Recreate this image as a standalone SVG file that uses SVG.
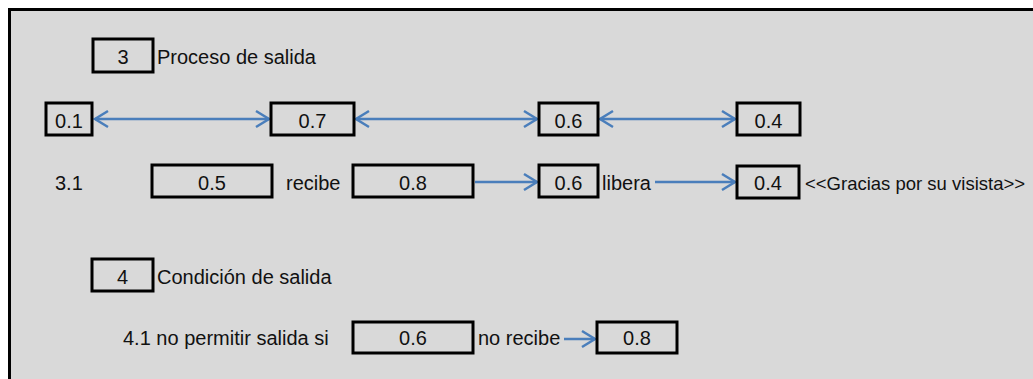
<svg xmlns="http://www.w3.org/2000/svg" width="1033" height="379" viewBox="0 0 1033 379">
<defs>
<style>
.bx{fill:none;stroke:#000;stroke-width:3}
.t{font-family:"Liberation Sans",Arial,sans-serif;font-size:20px;fill:#111}
.c{text-anchor:middle}
.cn{fill:none;stroke:#4a7ebb;stroke-width:2.5}
</style>
<marker id="arr" viewBox="-16 -10 18 20" refX="0" refY="0" markerWidth="18" markerHeight="20" markerUnits="userSpaceOnUse" orient="auto-start-reverse">
<path d="M-13,-8 L0,0 L-13,8" fill="none" stroke="#4a7ebb" stroke-width="2.5"/>
</marker>
</defs>
<rect width="1033" height="379" fill="#fff"/>
<rect x="9.5" y="9.5" width="1030" height="380" fill="#d9d9d9" stroke="#000" stroke-width="3"/>

<g id="connectors">
<line class="cn" x1="95" y1="119" x2="269" y2="119" marker-start="url(#arr)" marker-end="url(#arr)"/>
<line class="cn" x1="356" y1="119" x2="537" y2="119" marker-start="url(#arr)" marker-end="url(#arr)"/>
<line class="cn" x1="600" y1="119" x2="735" y2="119" marker-start="url(#arr)" marker-end="url(#arr)"/>
<line class="cn" x1="475" y1="182" x2="537" y2="182" marker-end="url(#arr)"/>
<line class="cn" x1="655" y1="182" x2="735" y2="182" marker-end="url(#arr)"/>
<line class="cn" x1="564" y1="339" x2="595" y2="339" marker-end="url(#arr)"/>
</g>

<g id="n3"><rect class="bx" x="93" y="39" width="60" height="33"/><text class="t c" x="123" y="64">3</text></g>
<g id="t3"><text class="t" x="157" y="64">Proceso de salida</text></g>

<g id="r1a"><rect class="bx" x="46" y="103" width="46" height="32"/><text class="t c" x="69" y="128">0.1</text></g>
<g id="r1b"><rect class="bx" x="271" y="103" width="83" height="32"/><text class="t c" x="312.5" y="128">0.7</text></g>
<g id="r1c"><rect class="bx" x="539" y="103" width="59" height="32"/><text class="t c" x="568.5" y="128">0.6</text></g>
<g id="r1d"><rect class="bx" x="737" y="103" width="63" height="32"/><text class="t c" x="768.5" y="128">0.4</text></g>

<g id="l31"><text class="t" x="55" y="190">3.1</text></g>
<g id="r2a"><rect class="bx" x="152" y="165" width="120" height="32"/><text class="t c" x="212" y="190">0.5</text></g>
<g id="l-recibe"><text class="t" x="286" y="190">recibe</text></g>
<g id="r2b"><rect class="bx" x="353" y="165" width="120" height="32"/><text class="t c" x="413" y="190">0.8</text></g>
<g id="r2c"><rect class="bx" x="539" y="165" width="59" height="32"/><text class="t c" x="568.5" y="190">0.6</text></g>
<g id="l-libera"><text class="t" x="602" y="190">libera</text></g>
<g id="r2d"><rect class="bx" x="737" y="166" width="62" height="32"/><text class="t c" x="768" y="190">0.4</text></g>
<g id="l-gracias"><text class="t" x="805" y="190" style="font-size:18.5px">&lt;&lt;Gracias por su visista&gt;&gt;</text></g>

<g id="n4"><rect class="bx" x="92" y="259" width="61" height="32"/><text class="t c" x="122.5" y="284">4</text></g>
<g id="t4"><text class="t" x="157" y="284">Condición de salida</text></g>

<g id="l41"><text class="t" x="123" y="345">4.1 no permitir salida si</text></g>
<g id="r3a"><rect class="bx" x="353" y="322" width="120" height="31"/><text class="t c" x="413" y="345">0.6</text></g>
<g id="l-norecibe"><text class="t" x="478" y="345">no recibe</text></g>
<g id="r3b"><rect class="bx" x="597" y="322" width="80" height="31"/><text class="t c" x="637" y="345">0.8</text></g>
</svg>
